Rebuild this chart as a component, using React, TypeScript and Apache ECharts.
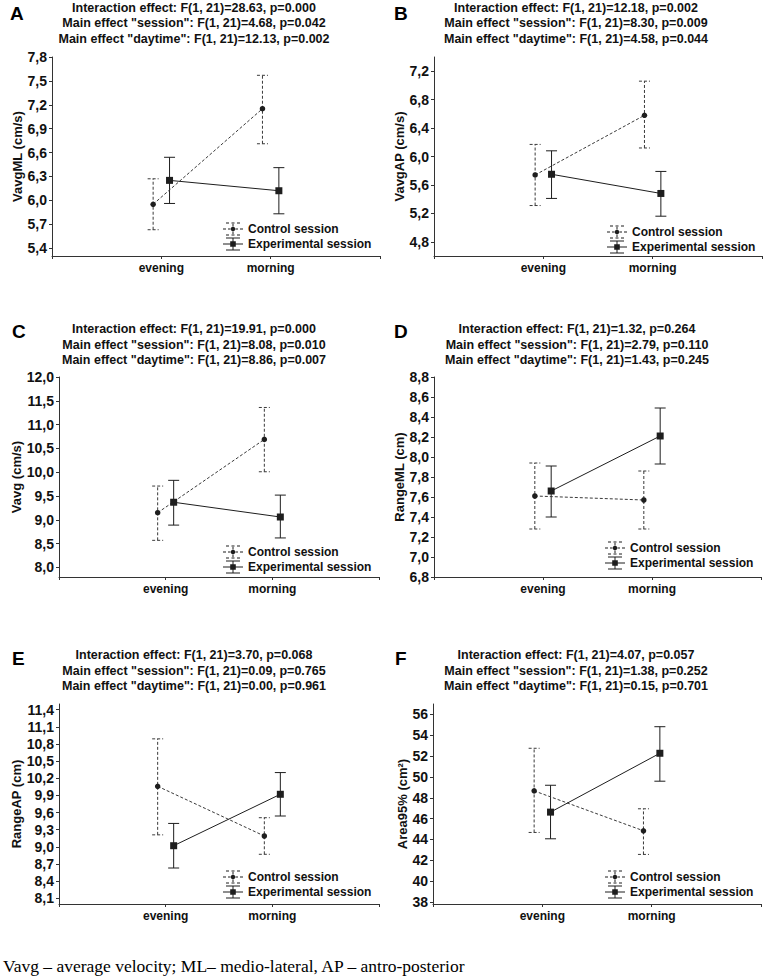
import React, { useEffect, useRef } from 'react';
import * as echarts from 'echarts';

// ---------- data ----------
const categories = ['evening', 'morning'];
const seriesNames = ['Control session', 'Experimental session'];
const panelLetters = ['A', 'B', 'C', 'D', 'E', 'F'];
const yAxisNames = ['VavgML (cm/s)', 'VavgAP (cm/s)', 'Vavg (cm/s)', 'RangeML (cm)', 'RangeAP (cm)', 'Area95% (cm²)'];

const interactionStats = ['F(1, 21)=28.63, p=0.000', 'F(1, 21)=12.18, p=0.002', 'F(1, 21)=19.91, p=0.000', 'F(1, 21)=1.32, p=0.264', 'F(1, 21)=3.70, p=0.068', 'F(1, 21)=4.07, p=0.057'];
const sessionStats = ['F(1, 21)=4.68, p=0.042', 'F(1, 21)=8.30, p=0.009', 'F(1, 21)=8.08, p=0.010', 'F(1, 21)=2.79, p=0.110', 'F(1, 21)=0.09, p=0.765', 'F(1, 21)=1.38, p=0.252'];
const daytimeStats = ['F(1, 21)=12.13, p=0.002', 'F(1, 21)=4.58, p=0.044', 'F(1, 21)=8.86, p=0.007', 'F(1, 21)=1.43, p=0.245', 'F(1, 21)=0.00, p=0.961', 'F(1, 21)=0.15, p=0.701'];

// [evening, morning] per panel
const controlMean = [[5.95, 7.15], [5.74, 6.58], [9.15, 10.69], [7.61, 7.57], [10.06, 9.19], [48.66, 44.83]];
const controlLow = [[5.63, 6.71], [5.31, 6.12], [8.57, 10.01], [7.28, 7.28], [9.21, 8.87], [44.67, 42.56]];
const controlHigh = [[6.27, 7.57], [6.17, 7.06], [9.71, 11.36], [7.94, 7.86], [10.89, 9.51], [52.75, 46.94]];
const expMean = [[6.25, 6.12], [5.75, 5.48], [9.37, 9.06], [7.66, 8.21], [9.02, 9.92], [46.62, 52.27]];
const expLow = [[5.96, 5.83], [5.41, 5.16], [8.89, 8.62], [7.40, 7.93], [8.63, 9.54], [44.06, 49.59]];
const expHigh = [[6.54, 6.41], [6.08, 5.79], [9.83, 9.52], [7.91, 8.49], [9.41, 10.30], [49.20, 54.82]];

// axis scales and tick labels
const yMin = [5.3, 4.6, 7.8, 6.8, 8.0, 37.8];
const yMax = [7.8, 7.4, 12.0, 8.8, 11.5, 57];
const yTicksA = [5.4, 5.7, 6.0, 6.3, 6.6, 6.9, 7.2, 7.5, 7.8];
const yTicksB = [4.8, 5.2, 5.6, 6.0, 6.4, 6.8, 7.2];
const yTicksC = [8.0, 8.5, 9.0, 9.5, 10.0, 10.5, 11.0, 11.5, 12.0];
const yTicksD = [6.8, 7.0, 7.2, 7.4, 7.6, 7.8, 8.0, 8.2, 8.4, 8.6, 8.8];
const yTicksE = [8.1, 8.4, 8.7, 9.0, 9.3, 9.6, 9.9, 10.2, 10.5, 10.8, 11.1, 11.4];
const yTicksF = [38, 40, 42, 44, 46, 48, 50, 52, 54, 56];
const yTicks = [yTicksA, yTicksB, yTicksC, yTicksD, yTicksE, yTicksF];
const yDecimals = [1, 1, 1, 1, 1, 0];

const caption = 'Vavg – average velocity; ML– medio-lateral, AP – antro-posterior';

// ---------- layout ----------
const gridLeft = [52, 434, 59, 434, 59, 433];
const gridTop = [57, 57, 377, 377, 704, 704];
const gridWidth = [328, 328, 320, 327, 320, 328];
const gridHeight = [199, 199, 200, 200, 200, 200];
const titleX = [194, 576, 194, 577, 194, 576];
const titleY = [7.5, 7.5, 329.2, 329.2, 655, 655];
const letterX = [10, 394, 12, 394, 12, 395];
const letterY = [13.5, 13, 331.5, 331.5, 658.5, 658.5];
const nameGaps = [27.5, 27.5, 34.5, 27.5, 32.5, 24.5];
const legendLeft = [223, 607, 223, 605, 223, 605];
const legendTop = [222.5, 225.5, 545.5, 541.5, 870.5, 870.5];

const SANS = '"Liberation Sans", Arial, Helvetica, sans-serif';
const INK = '#1e1e1e';
const DASH_INK = '#3a3a3a';
const X_OFFSET = 0.075;

const rect = (x: number, y: number, w: number, h: number) => `M${x} ${y}h${w}v${h}h${-w}Z`;
const circle = (cx: number, cy: number, r: number) =>
  `M${cx + r} ${cy}A${r} ${r} 0 1 1 ${cx - r} ${cy}A${r} ${r} 0 1 1 ${cx + r} ${cy}Z`;

const controlIcon =
  'path://' +
  [
    rect(3, 0, 3, 1), rect(8.5, 0, 3, 1), rect(14, 0, 3, 1),
    rect(3, 12, 3, 1), rect(8.5, 12, 3, 1), rect(14, 12, 3, 1),
    rect(9.5, 1.6, 1, 2.4), rect(9.5, 9, 1, 2.4),
    rect(0, 6, 3, 1), rect(5, 6, 2.6, 1), rect(12.4, 6, 2.6, 1), rect(17, 6, 3, 1),
    circle(10, 6.5, 2.2),
  ].join('');

const expIcon =
  'path://' +
  [
    rect(3, 0, 14, 1), rect(3, 12, 14, 1),
    rect(9.5, 1, 1, 2.8), rect(9.5, 9.2, 1, 2.8),
    rect(0, 6, 7.2, 1), rect(12.8, 6, 7.2, 1),
    rect(7.2, 3.8, 5.6, 5.4),
  ].join('');

function errorBarRender(dashed: boolean) {
  return (params: any, api: any) => {
    const x = api.value(0);
    const lo = api.value(1);
    const hi = api.value(2);
    const pLo = api.coord([x, lo]);
    const pHi = api.coord([x, hi]);
    const hw = 5.5;
    const style = {
      stroke: dashed ? DASH_INK : INK,
      lineWidth: 1,
      lineDash: dashed ? [3, 2] : null,
      fill: null,
    };
    return {
      type: 'group',
      children: [
        { type: 'line', shape: { x1: pLo[0], y1: pLo[1], x2: pHi[0], y2: pHi[1] }, style },
        { type: 'line', shape: { x1: pLo[0] - hw, y1: pLo[1], x2: pLo[0] + hw, y2: pLo[1] }, style },
        { type: 'line', shape: { x1: pHi[0] - hw, y1: pHi[1], x2: pHi[0] + hw, y2: pHi[1] }, style },
      ],
    };
  };
}

function buildOption() {
  const grid: any[] = [];
  const xAxis: any[] = [];
  const yAxis: any[] = [];
  const series: any[] = [];
  const legend: any[] = [];
  const graphic: any[] = [];

  for (let i = 0; i < 6; i++) {
    grid.push({
      left: gridLeft[i],
      top: gridTop[i],
      width: gridWidth[i],
      height: gridHeight[i],
      containLabel: false,
      outerBoundsMode: 'none',
    });
    xAxis.push({
      type: 'value',
      gridIndex: i,
      min: 0,
      max: categories.length + 1,
      interval: 1,
      splitLine: { show: false },
      axisLine: { lineStyle: { color: '#333', width: 1 } },
      axisTick: { show: true, length: 3, lineStyle: { color: '#333' } },
      axisLabel: {
        margin: 6,
        color: '#111',
        fontFamily: SANS,
        fontWeight: 'bold',
        fontSize: 12,
        formatter: (v: number) => {
          const k = Math.round(v);
          return Math.abs(v - k) < 1e-6 && k >= 1 && k <= categories.length ? categories[k - 1] : '';
        },
      },
    });
    const dec = yDecimals[i];
    yAxis.push({
      type: 'value',
      gridIndex: i,
      min: yMin[i],
      max: yMax[i],
      splitLine: { show: false },
      axisLine: { show: true, lineStyle: { color: '#333', width: 1 } },
      axisTick: { show: true, length: 3, lineStyle: { color: '#333' }, customValues: yTicks[i] },
      axisLabel: {
        margin: 5,
        color: '#111',
        fontFamily: SANS,
        fontWeight: 'bold',
        fontSize: 14,
        customValues: yTicks[i],
        formatter: (v: number) => v.toFixed(dec).replace('.', ','),
      },
      name: yAxisNames[i],
      nameLocation: 'middle',
      nameGap: nameGaps[i],
      nameTextStyle: { color: '#111', fontFamily: SANS, fontWeight: 'bold', fontSize: 13 },
    });

    const ctrlBars = categories.map((_, j) => [j + 1 - X_OFFSET, controlLow[i][j], controlHigh[i][j]]);
    const expBars = categories.map((_, j) => [j + 1 + X_OFFSET, expLow[i][j], expHigh[i][j]]);
    const ctrlPts = categories.map((_, j) => [j + 1 - X_OFFSET, controlMean[i][j]]);
    const expPts = categories.map((_, j) => [j + 1 + X_OFFSET, expMean[i][j]]);

    series.push({
      type: 'line',
      name: seriesNames[0],
      xAxisIndex: i,
      yAxisIndex: i,
      data: ctrlPts,
      symbol: 'circle',
      symbolSize: 5.5,
      showSymbol: true,
      lineStyle: { color: DASH_INK, width: 1, type: [3, 2] },
      itemStyle: { color: INK, borderWidth: 0 },
      z: 4,
    });
    series.push({
      type: 'line',
      name: seriesNames[1],
      xAxisIndex: i,
      yAxisIndex: i,
      data: expPts,
      symbol: 'rect',
      symbolSize: 7,
      showSymbol: true,
      lineStyle: { color: INK, width: 1, type: 'solid' },
      itemStyle: { color: INK, borderWidth: 0 },
      z: 4,
    });
    series.push({
      type: 'custom',
      name: seriesNames[0],
      xAxisIndex: i,
      yAxisIndex: i,
      data: ctrlBars,
      encode: { x: 0, y: [1, 2] },
      renderItem: errorBarRender(true),
      itemStyle: { color: INK },
      z: 3,
    });
    series.push({
      type: 'custom',
      name: seriesNames[1],
      xAxisIndex: i,
      yAxisIndex: i,
      data: expBars,
      encode: { x: 0, y: [1, 2] },
      renderItem: errorBarRender(false),
      itemStyle: { color: INK },
      z: 3,
    });

    legend.push({
      left: legendLeft[i],
      top: legendTop[i],
      orient: 'vertical',
      padding: 0,
      itemGap: 2,
      itemWidth: 20,
      itemHeight: 13,
      selectedMode: false,
      itemStyle: { color: INK, borderWidth: 0 },
      textStyle: { color: '#111', fontFamily: SANS, fontWeight: 'bold', fontSize: 12, lineHeight: 13 },
      data: [
        { name: seriesNames[0], icon: controlIcon },
        { name: seriesNames[1], icon: expIcon },
      ],
    });

    graphic.push({
      type: 'text',
      x: letterX[i],
      y: letterY[i],
      style: {
        text: panelLetters[i],
        fill: '#000',
        font: `bold 19px ${SANS}`,
        textAlign: 'left',
        textVerticalAlign: 'middle',
      },
    });
    const lines = [
      `Interaction effect: ${interactionStats[i]}`,
      `Main effect "session": ${sessionStats[i]}`,
      `Main effect "daytime": ${daytimeStats[i]}`,
    ];
    lines.forEach((t, k) => {
      graphic.push({
        type: 'text',
        x: titleX[i],
        y: titleY[i] + k * 15.5,
        style: {
          text: t,
          fill: '#111',
          font: `bold 12.5px ${SANS}`,
          textAlign: 'center',
          textVerticalAlign: 'middle',
        },
      });
    });
  }

  graphic.push({
    type: 'text',
    x: 3,
    y: 966,
    style: {
      text: caption,
      fill: '#000',
      font: `17.5px "Liberation Serif", "Times New Roman", serif`,
      textAlign: 'left',
      textVerticalAlign: 'middle',
    },
  });

  return {
    animation: false,
    backgroundColor: '#ffffff',
    grid,
    xAxis,
    yAxis,
    series,
    legend,
    graphic,
  };
}

export default function App() {
  const ref = useRef<HTMLDivElement>(null);
  useEffect(() => {
    if (!ref.current) return;
    const chart = echarts.init(ref.current, null, { renderer: 'svg' });
    chart.setOption(buildOption() as any);
    return () => chart.dispose();
  }, []);
  return (
    <div
      ref={ref}
      style={{ position: 'absolute', left: 0, top: 0, width: 764, height: 980, background: '#fff' }}
    />
  );
}
